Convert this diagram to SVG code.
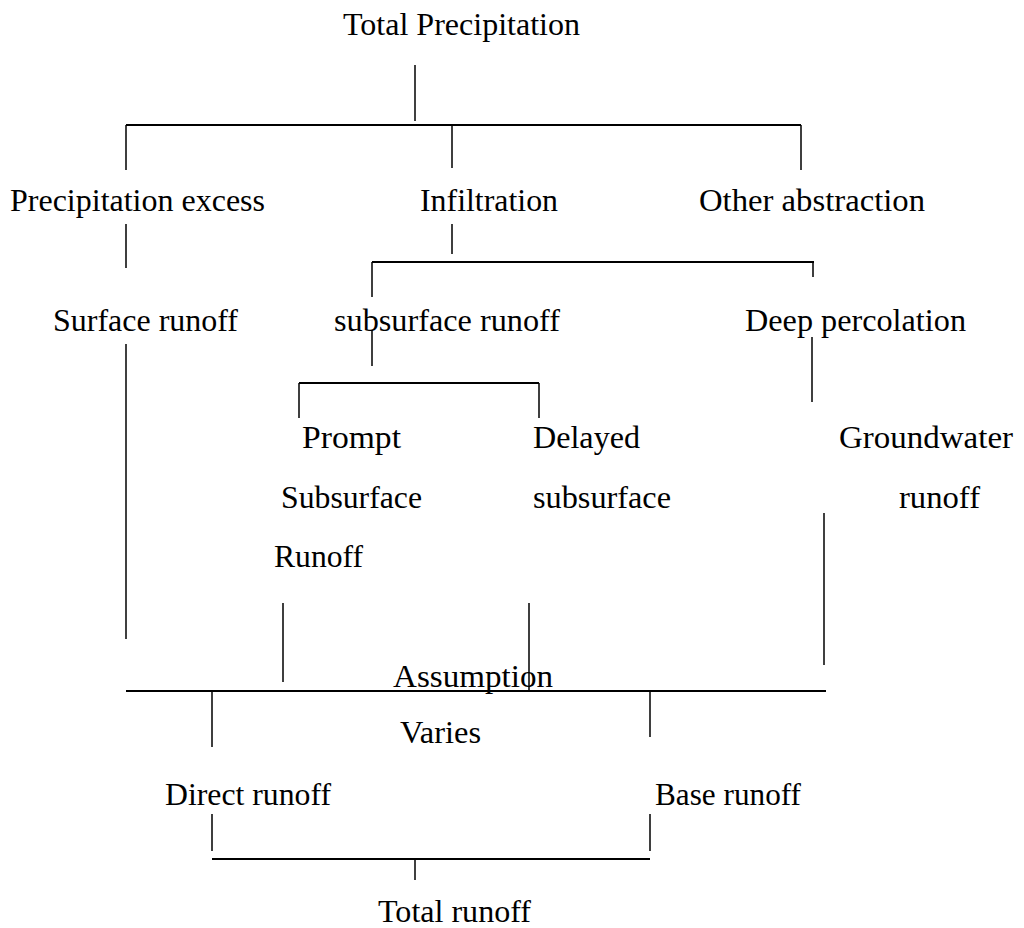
<svg xmlns="http://www.w3.org/2000/svg" width="1024" height="928" viewBox="0 0 1024 928">
<style>
text{font-family:"Liberation Serif","Times New Roman",serif;font-size:32px;fill:#000}
.v{stroke:#000;stroke-width:1.5;fill:none}
.h{stroke:#000;stroke-width:2.2;fill:none}
</style>
<rect width="1024" height="928" fill="#fff"/>
<g id="connectors">
<path class="v" d="M415 65V121"/>
<path class="h" d="M126 125H801"/>
<path class="v" d="M126 125V170M452 125V168M801 125V170"/>
<path class="v" d="M126 224V268M452 224V254"/>
<path class="h" d="M372 262H814"/>
<path class="v" d="M372 262V297M372 330V366M813 262V277"/>
<path class="v" d="M812 337V402"/>
<path class="v" d="M126 344V639"/>
<path class="h" d="M299 383H539"/>
<path class="v" d="M299 383V418M539 383V418"/>
<path class="v" d="M824 513V665"/>
<path class="v" d="M283 603V682M529 603V691"/>
<path class="h" d="M126 691H826"/>
<path class="v" d="M212 691V747M650 691V737"/>
<path class="v" d="M212 814V851M650 814V851"/>
<path class="h" d="M212 859H650"/>
<path class="v" d="M415 859V880"/>
</g>
<g id="total-precipitation"><text x="343" y="35" textLength="237" lengthAdjust="spacingAndGlyphs">Total Precipitation</text></g>
<g id="precipitation-excess"><text x="10" y="211" textLength="255" lengthAdjust="spacingAndGlyphs">Precipitation excess</text></g>
<g id="infiltration"><text x="420" y="211" textLength="138" lengthAdjust="spacingAndGlyphs">Infiltration</text></g>
<g id="other-abstraction"><text x="699" y="211" textLength="226" lengthAdjust="spacingAndGlyphs">Other abstraction</text></g>
<g id="surface-runoff"><text x="53" y="331" textLength="185" lengthAdjust="spacingAndGlyphs">Surface runoff</text></g>
<g id="subsurface-runoff"><text x="334" y="331" textLength="226" lengthAdjust="spacingAndGlyphs">subsurface runoff</text></g>
<g id="deep-percolation"><text x="745" y="331" textLength="221" lengthAdjust="spacingAndGlyphs">Deep percolation</text></g>
<g id="prompt-subsurface-runoff">
<text x="302" y="448" textLength="99" lengthAdjust="spacingAndGlyphs">Prompt</text>
<text x="281" y="508" textLength="141" lengthAdjust="spacingAndGlyphs">Subsurface</text>
<text x="274" y="567" textLength="89" lengthAdjust="spacingAndGlyphs">Runoff</text>
</g>
<g id="delayed-subsurface">
<text x="533" y="448" textLength="107" lengthAdjust="spacingAndGlyphs">Delayed</text>
<text x="533" y="508" textLength="138" lengthAdjust="spacingAndGlyphs">subsurface</text>
</g>
<g id="groundwater-runoff">
<text x="839" y="448" textLength="174" lengthAdjust="spacingAndGlyphs">Groundwater</text>
<text x="899" y="508" textLength="81" lengthAdjust="spacingAndGlyphs">runoff</text>
</g>
<g id="assumption-varies">
<text x="393" y="687" textLength="160" lengthAdjust="spacingAndGlyphs">Assumption</text>
<text x="400" y="743" textLength="81" lengthAdjust="spacingAndGlyphs">Varies</text>
</g>
<g id="direct-runoff"><text x="165" y="805" textLength="166" lengthAdjust="spacingAndGlyphs">Direct runoff</text></g>
<g id="base-runoff"><text x="655" y="805" textLength="146" lengthAdjust="spacingAndGlyphs">Base runoff</text></g>
<g id="total-runoff"><text x="378" y="922" textLength="153" lengthAdjust="spacingAndGlyphs">Total runoff</text></g>
</svg>
